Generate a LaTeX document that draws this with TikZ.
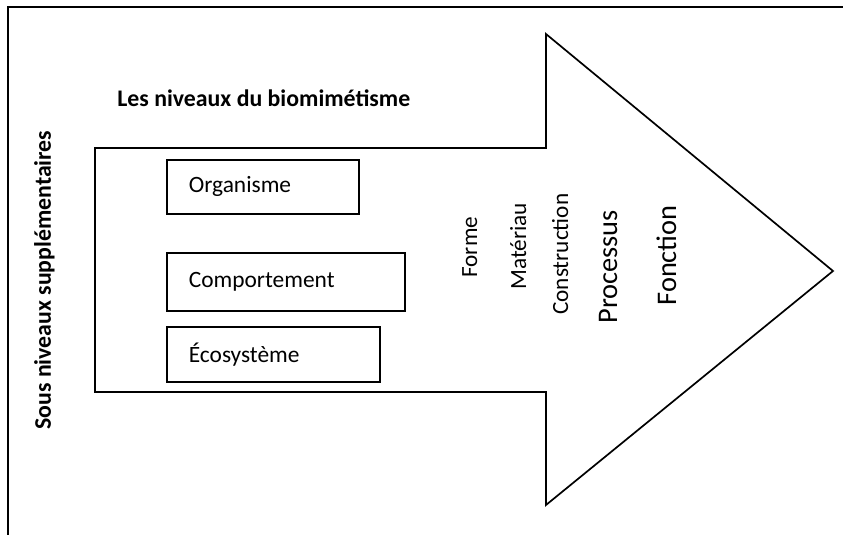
\documentclass[tikz,border=0pt]{standalone}
\usepackage{fontspec}
\setmainfont{Carlito}
\begin{document}
\begin{tikzpicture}[x=0.5pt,y=-0.5pt,
  outline/.style={draw=black,line width=0.85pt,line join=miter},
  levelbox/.style={outline,anchor=north west,inner xsep=11pt,inner ysep=0pt,
    align=left,font=\fontsize{11.7}{14}\selectfont},
  vlabel/.style={rotate=90,anchor=base west,inner sep=0pt,font=\fontsize{11.6}{14}\selectfont},
  vlabelbig/.style={vlabel,font=\fontsize{14.2}{17}\selectfont},
  heading/.style={inner sep=0pt,font=\bfseries\fontsize{11.9}{14}\selectfont}]
\useasboundingbox (0,0) rectangle (843,535);

% outer frame (left and top edges)
\draw[line width=1pt] (7.5,535) -- (7.5,7) -- (843,7);

% large arrow
\draw[outline] (95,148) -- (546,148) -- (546,34) -- (833,271)
  -- (546,505) -- (546,392) -- (95,392) -- cycle;

% headings
\node[heading,anchor=base west] (title) at (117,107) {Les niveaux du biomimétisme};
\node[heading,rotate=90,anchor=base west] (side) at (51,430) {Sous niveaux supplémentaires};

% level boxes
\node[levelbox,text width=74pt,minimum height=27pt] (org) at (166,159) {Organisme};
\node[levelbox,text width=97pt,minimum height=29pt] (comp) at (166,252) {Comportement};
\node[levelbox,text width=84.5pt,minimum height=27.5pt] (eco) at (166,326) {Écosystème};

% rotated level labels inside the arrow
\node[vlabel] (forme) at (477,278) {Forme};
\node[vlabel] (mat) at (526,290) {Matériau};
\node[vlabel] (cons) at (568,315) {Construction};
\node[vlabelbig] (proc) at (617,324) {Processus};
\node[vlabelbig] (fonc) at (676,306) {Fonction};
\end{tikzpicture}
\end{document}
